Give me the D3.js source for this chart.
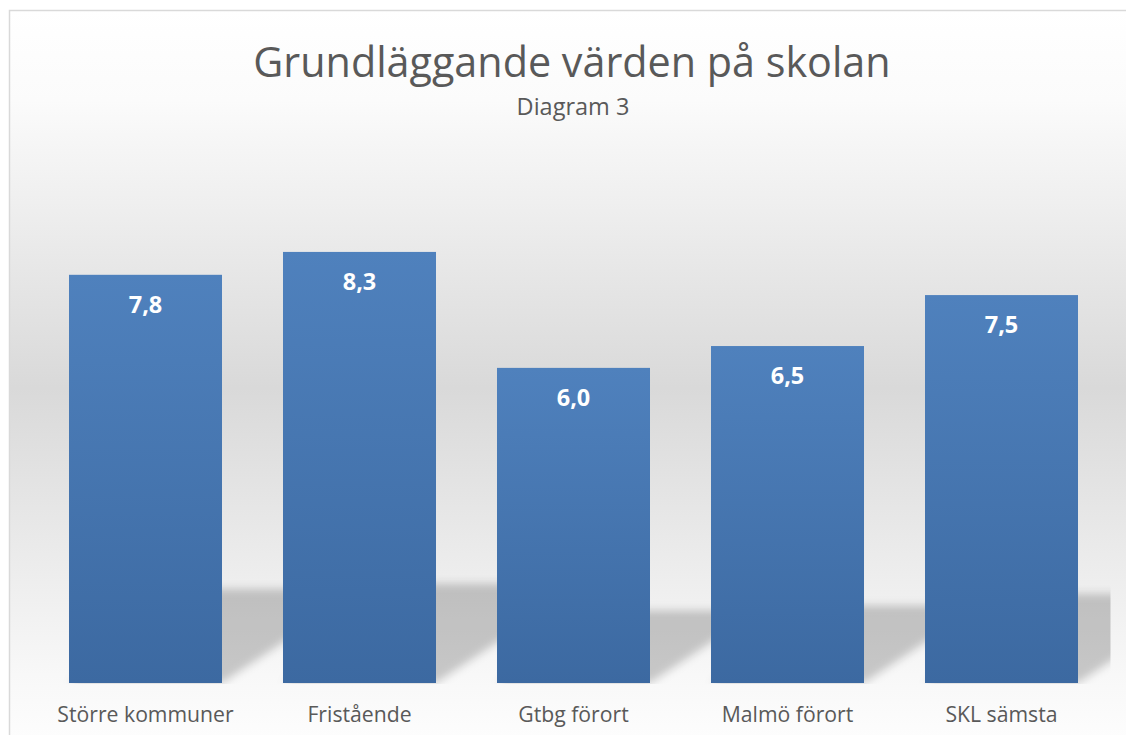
<!DOCTYPE html>
<html>
<head>
<meta charset="utf-8">
<script src="https://cdn.jsdelivr.net/npm/d3@7"></script>
<style>
  body { margin: 0; background: #fff; }
  svg text { font-family: "Open Sans", "Noto Sans", sans-serif; }
</style>
</head>
<body>
<div id="chart"></div>
<script>
const categories = ['Större kommuner', 'Fristående', 'Gtbg förort', 'Malmö förort', 'SKL sämsta'];
const values = [7.85, 8.29, 6.06, 6.48, 7.46];
const valueLabels = ['7,8', '8,3', '6,0', '6,5', '7,5'];
const title = 'Grundläggande värden på skolan';
const subtitle = 'Diagram 3';

const width = 1126;
const height = 735;
const plot = { left: 38.5, right: 1108.5, top: 163, bottom: 683 };

const svg = d3.select('#chart')
  .append('svg')
    .attr('width', width)
    .attr('height', height);

const defs = svg.append('defs');

// chart background: white -> grey -> white
const bg = defs.append('linearGradient')
    .attr('id', 'bg')
    .attr('x1', 0).attr('y1', 0).attr('x2', 0).attr('y2', 1);
bg.append('stop').attr('offset', '0%').attr('stop-color', '#ffffff');
bg.append('stop').attr('offset', '12%').attr('stop-color', '#fbfbfb');
bg.append('stop').attr('offset', '50%').attr('stop-color', '#d9d9d9');
bg.append('stop').attr('offset', '88%').attr('stop-color', '#f8f8f8');
bg.append('stop').attr('offset', '100%').attr('stop-color', '#ffffff');

const barGrad = defs.append('linearGradient')
    .attr('id', 'bar')
    .attr('x1', 0).attr('y1', 0).attr('x2', 0).attr('y2', 1);
barGrad.append('stop').attr('offset', '0%').attr('stop-color', '#4f81bd');
barGrad.append('stop').attr('offset', '100%').attr('stop-color', '#3c69a1');

defs.append('filter')
    .attr('id', 'blur')
    .attr('x', '-10%').attr('y', '-20%').attr('width', '120%').attr('height', '140%')
  .append('feGaussianBlur')
    .attr('stdDeviation', 4);

defs.append('clipPath')
    .attr('id', 'plotclip')
  .append('rect')
    .attr('x', plot.left - 40)
    .attr('y', plot.top - 40)
    .attr('width', plot.right - plot.left + 42)
    .attr('height', plot.bottom - plot.top + 41);

svg.append('rect')
    .attr('x', 9.5)
    .attr('y', 10.5)
    .attr('width', width + 20)
    .attr('height', height + 20)
    .attr('fill', 'url(#bg)')
    .attr('stroke', '#d9d9d9')
    .attr('stroke-width', 1.5);

const x = d3.scaleBand()
    .domain(categories)
    .range([plot.left, plot.right])
    .paddingInner(0.285)
    .paddingOuter(0.1425);

const y = d3.scaleLinear()
    .domain([0, 10])
    .range([plot.bottom, plot.top]);

// perspective shadows behind the bars
const shadowScale = 0.23;
const skew = 1.5;
svg.append('g')
    .attr('clip-path', 'url(#plotclip)')
  .append('g')
    .attr('filter', 'url(#blur)')
  .selectAll('polygon')
  .data(values)
  .join('polygon')
    .attr('fill', '#000')
    .attr('fill-opacity', 0.2)
    .attr('points', (d, i) => {
      const x0 = x(categories[i]);
      const x1 = x0 + x.bandwidth();
      const h = (y(0) - y(d)) * shadowScale;
      const s = h * skew;
      return [[x0, y(0)], [x1, y(0)], [x1 + s, y(0) - h], [x0 + s, y(0) - h]].join(' ');
    });

svg.append('g')
  .selectAll('rect')
  .data(values)
  .join('rect')
    .attr('x', (d, i) => x(categories[i]))
    .attr('y', d => y(d))
    .attr('width', x.bandwidth())
    .attr('height', d => y(0) - y(d))
    .attr('fill', 'url(#bar)');

// value labels inside the bars
svg.append('g')
  .selectAll('text')
  .data(values)
  .join('text')
    .attr('x', (d, i) => x(categories[i]) + x.bandwidth() / 2)
    .attr('y', d => y(d) + 38)
    .attr('text-anchor', 'middle')
    .attr('fill', '#ffffff')
    .attr('font-weight', 'bold')
    .attr('font-size', 23.5)
    .text((d, i) => valueLabels[i]);

// category axis
const xAxis = svg.append('g')
    .attr('transform', `translate(0, ${plot.bottom})`)
    .call(d3.axisBottom(x).tickSize(0).tickPadding(0));
xAxis.select('.domain').remove();
xAxis.selectAll('text')
    .attr('y', 39)
    .attr('dy', null)
    .attr('font-size', 21.2)
    .attr('font-family', '"Open Sans", sans-serif')
    .attr('fill', '#595959');

svg.append('text')
    .attr('x', 572)
    .attr('y', 77)
    .attr('text-anchor', 'middle')
    .attr('font-size', 41.3)
    .attr('fill', '#595959')
    .text(title);

svg.append('text')
    .attr('x', 573)
    .attr('y', 115)
    .attr('text-anchor', 'middle')
    .attr('font-size', 23.5)
    .attr('fill', '#595959')
    .text(subtitle);
</script>
</body>
</html>
